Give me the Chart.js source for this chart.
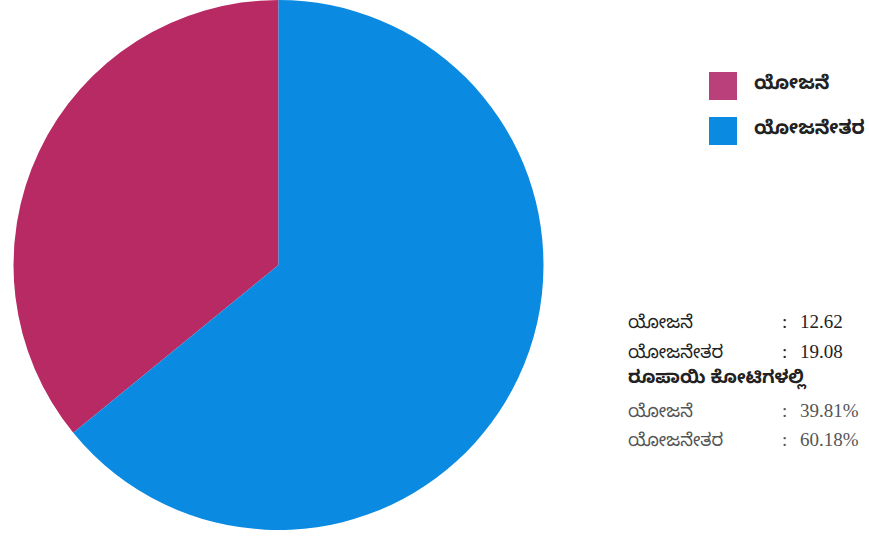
<!DOCTYPE html>
<html>
<head>
<meta charset="utf-8">
<script src="https://cdn.jsdelivr.net/npm/chart.js@4.4.0/dist/chart.umd.min.js"></script>
<style>
  html, body { margin:0; padding:0; background:#fff; }
  body { width:869px; height:537px; position:relative; overflow:hidden;
         font-family:"Noto Sans Kannada","Noto Sans","DejaVu Sans",sans-serif; }
  #wrap { position:absolute; left:0; top:0; width:558px; height:537px; }
  #legend { position:absolute; left:709px; top:72px; }
  .li { display:flex; align-items:center; height:28px; margin-bottom:17px; }
  .sw { width:28px; height:28px; margin-right:17px; }
  .lt { font-size:19px; font-weight:bold; color:#222; }
  #info { position:absolute; left:628px; top:307px; font-size:18px; color:#222; }
  .row { display:flex; align-items:baseline; height:29.5px; line-height:29.5px; white-space:nowrap; }
  .row .l { width:154px; }
  .row .c { width:18px; font-family:"Liberation Serif",serif; font-size:19px; }
  .row .v { font-family:"Liberation Serif",serif; font-size:19px; }
  .bold { font-weight:bold; }
  .gray { color:#555; }
</style>
</head>
<body>
<div id="wrap"><canvas id="c"></canvas></div>
<div id="legend"></div>
<div id="info"></div>
<script>
const categories = ['ಯೋಜನೆ', 'ಯೋಜನೇತರ'];
const sliceShares = [35.9, 64.1];
const colors = ['#B72A63', '#0A8AE0'];
// Annotation text values printed on the chart
const amountValues = ['12.62', '19.08'];
const percentValues = ['39.81%', '60.18%'];
const unitLabel = 'ರೂಪಾಯಿ ಕೋಟಿಗಳಲ್ಲಿ';

const total = sliceShares.reduce((a, b) => a + b, 0);
const rotation = sliceShares[1] / total * 360;

new Chart(document.getElementById('c'), {
  type: 'pie',
  data: {
    labels: categories,
    datasets: [{ data: sliceShares, backgroundColor: colors, borderWidth: 0 }]
  },
  options: {
    responsive: true,
    maintainAspectRatio: false,
    animation: false,
    rotation: rotation,
    layout: { padding: { left: 12, right: 13, top: 0, bottom: 7 } },
    plugins: { legend: { display: false }, tooltip: { enabled: false } }
  }
});

const lg = document.getElementById('legend');
categories.forEach((c, i) => {
  const d = document.createElement('div');
  d.className = 'li';
  d.innerHTML = '<div class="sw" style="background:' + (i === 0 ? '#B9407A' : '#0A8AE0') + '"></div><span class="lt">' + c + '</span>';
  lg.appendChild(d);
});

const info = document.getElementById('info');
function addRow(label, val, cls) {
  const r = document.createElement('div');
  r.className = 'row ' + (cls || '');
  r.innerHTML = '<span class="l">' + label + '</span>' + (val !== null ? '<span class="c">:</span><span class="v">' + val + '</span>' : '');
  info.appendChild(r);
}
categories.forEach((c, i) => addRow(c, amountValues[i]));
addRow(unitLabel, null, 'bold');
categories.forEach((c, i) => addRow(c, percentValues[i], 'gray'));
</script>
</body>
</html>
